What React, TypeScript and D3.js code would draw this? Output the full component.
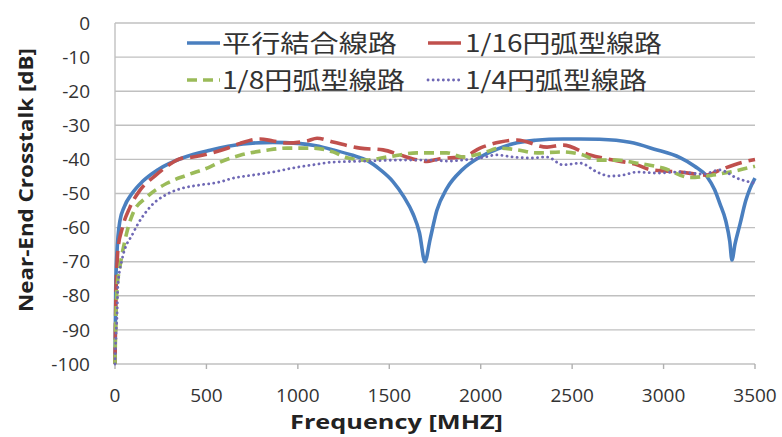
import React from 'react';
import * as d3 from 'd3';

// series (MHz, dB)
const parallelFreq = [0, 4, 10, 27, 50, 93, 150, 235, 372, 520, 700, 864, 1000, 1100, 1200, 1300, 1378, 1450, 1520, 1580, 1630, 1665, 1695, 1723, 1760, 1815, 1900, 1996, 2090, 2177, 2300, 2450, 2543, 2650, 2816, 2950, 3090, 3170, 3237, 3280, 3308, 3340, 3362, 3374, 3390, 3418, 3450, 3473, 3500];
const parallelDb = [-100, -78, -68, -58, -54, -50, -46.5, -43, -39.5, -37.3, -35.5, -35, -35.3, -36, -37.3, -38.8, -40.3, -43, -46.5, -51, -56, -61.5, -70, -63.5, -55, -48.5, -43, -39.3, -37, -35.4, -34.4, -34, -34, -34.1, -35, -37, -39.5, -42, -45, -49, -53, -58, -64, -69.5, -65, -59, -52, -48.5, -45.5];

const arc16Freq = [0, 5, 10, 16, 38, 82, 137, 219, 290, 356, 427, 536, 610, 684, 793, 864, 941, 1050, 1105, 1192, 1340, 1466, 1559, 1640, 1706, 1760, 1815, 1903, 1996, 2106, 2199, 2363, 2450, 2598, 2724, 2855, 2926, 3090, 3237, 3308, 3434, 3500];
const arc16Db = [-100, -80, -72, -66.5, -60.5, -54, -49, -44.8, -41.8, -39.8, -39.3, -38, -36.8, -35.3, -34, -34.6, -35.2, -34.6, -33.8, -34.9, -36.7, -37.2, -38.7, -40, -40.6, -40, -39.6, -39.3, -36.7, -34.9, -34.3, -36.4, -35.8, -38.7, -40.2, -41.6, -43, -43.7, -44.6, -43.1, -40.8, -40];

const arc8Freq = [0, 5, 11, 27, 55, 99, 175, 284, 394, 520, 575, 684, 831, 941, 1083, 1192, 1269, 1378, 1488, 1651, 1815, 1903, 2013, 2106, 2199, 2308, 2450, 2560, 2636, 2745, 2855, 2997, 3144, 3270, 3363, 3500];
const arc8Db = [-100, -86, -78, -71.5, -63.6, -55.7, -51, -47, -44.6, -42.2, -40.8, -38.8, -37.3, -36.7, -36.7, -37.8, -39.5, -40.2, -39.3, -38.1, -38.1, -39.3, -38.1, -36.7, -37.2, -38.1, -37.8, -38.7, -40.2, -40.2, -41.1, -42.5, -45.3, -44.6, -43.7, -42];

const arc4Freq = [0, 5, 11, 16, 38, 99, 191, 284, 372, 465, 575, 645, 755, 864, 974, 1083, 1192, 1378, 1559, 1739, 1815, 1903, 1996, 2089, 2177, 2270, 2363, 2450, 2543, 2636, 2707, 2779, 2855, 2964, 3090, 3215, 3308, 3401, 3500];
const arc4Db = [-100, -92, -86, -77, -69.5, -61.6, -54, -50.2, -48.4, -47.5, -46.6, -45.5, -44.6, -43.7, -42.5, -41.6, -40.8, -40.5, -40.2, -40.2, -40.5, -40.2, -39.6, -38.7, -39.3, -39.6, -39.3, -41.6, -41.1, -43.7, -44.9, -44.6, -43.7, -44, -43.7, -44.3, -43.1, -45.5, -47];

const seriesNames = ['平行結合線路', '1/16円弧型線路', '1/8円弧型線路', '1/4円弧型線路'];
const xTicks = [0, 500, 1000, 1500, 2000, 2500, 3000, 3500];
const yTicks = [0, -10, -20, -30, -40, -50, -60, -70, -80, -90, -100];

const W = 782;
const H = 437;
const plot = { left: 115, right: 755, top: 23, bottom: 364 };

const x = d3.scaleLinear().domain([0, 3500]).range([plot.left, plot.right]);
const y = d3.scaleLinear().domain([-100, 0]).range([plot.bottom, plot.top]);

const styles = [
  { color: '#4a7fbf', width: 3.6, dash: undefined as string | undefined, cap: 'butt' },
  { color: '#c0504d', width: 3.6, dash: '17 7', cap: 'butt' },
  { color: '#9bbb59', width: 3.6, dash: '10 6', cap: 'butt' },
  { color: '#6f68b5', width: 2.8, dash: '0.1 5', cap: 'round' },
];

const series = [
  { freq: parallelFreq, db: parallelDb },
  { freq: arc16Freq, db: arc16Db },
  { freq: arc8Freq, db: arc8Db },
  { freq: arc4Freq, db: arc4Db },
];

const line = d3.line<[number, number]>()
  .x(d => x(d[0]))
  .y(d => y(d[1]))
  .curve(d3.curveMonotoneX);

const latin = '"Open Sans", "DejaVu Sans", sans-serif';
const cjk = '"Noto Sans CJK JP", "Noto Sans", sans-serif';

export default function App() {
  // legend layout: two rows, two columns
  const legend = [
    { sx: 187, tx: 222, y: 43, len: 175 },
    { sx: 428, tx: 465, y: 43, len: 197 },
    { sx: 187, tx: 222, y: 80, len: 183 },
    { sx: 428, tx: 465, y: 80, len: 182 },
  ];

  return (
    <svg width={W} height={H} style={{ position: 'absolute', left: 0, top: 0, background: '#fff' }}>
      {/* grid */}
      {yTicks.map(t => (
        <line key={'g' + t} x1={plot.left} x2={plot.right} y1={y(t)} y2={y(t)} stroke="#c0c0c0" strokeWidth={1.4} />
      ))}
      <line x1={plot.left} x2={plot.left} y1={plot.top} y2={plot.bottom} stroke="#c0c0c0" strokeWidth={1.4} />
      {xTicks.map(t => (
        <line key={'t' + t} x1={x(t)} x2={x(t)} y1={plot.bottom} y2={plot.bottom + 5} stroke="#b0b0b0" strokeWidth={1.4} />
      ))}

      {/* tick labels */}
      {yTicks.map(t => (
        <text key={'yl' + t} x={90} y={y(t)} dy="0.35em" textAnchor="end" fontFamily={latin} fontSize={19} fill="#333">
          {t}
        </text>
      ))}
      {xTicks.map(t => (
        <text key={'xl' + t} x={x(t)} y={395} dy="0.35em" textAnchor="middle" fontFamily={latin} fontSize={19} fill="#333">
          {t}
        </text>
      ))}

      {/* axis titles */}
      <text x={290} y={429} fontFamily={latin} fontWeight="bold" fontSize={20} fill="#222" textLength={213} lengthAdjust="spacingAndGlyphs">
        Frequency [MHZ]
      </text>
      <text transform="translate(33,180) rotate(-90)" textAnchor="middle" fontFamily={latin} fontWeight="bold" fontSize={20} fill="#222" textLength={264} lengthAdjust="spacingAndGlyphs">
        Near-End Crosstalk [dB]
      </text>

      {/* series */}
      {series.map((s, i) => {
        const pts = s.freq.map((f, j) => [f, s.db[j]] as [number, number]);
        const st = styles[i];
        return (
          <path key={'s' + i} d={line(pts) || ''} fill="none" stroke={st.color} strokeWidth={st.width}
            strokeDasharray={st.dash} strokeLinecap={st.cap as any} strokeLinejoin="round" />
        );
      })}

      {/* legend */}
      {legend.map((l, i) => {
        const st = styles[i];
        return (
          <g key={'lg' + i}>
            <line x1={l.sx} x2={l.sx + 33} y1={l.y} y2={l.y} stroke={st.color} strokeWidth={st.width}
              strokeDasharray={st.dash === '17 7' ? undefined : st.dash} strokeLinecap={st.cap as any} />
            <text x={l.tx} y={l.y} dy="0.36em" fontFamily={cjk} fontSize={24} fill="#333"
              textLength={l.len} lengthAdjust="spacingAndGlyphs">
              {seriesNames[i]}
            </text>
          </g>
        );
      })}
    </svg>
  );
}
